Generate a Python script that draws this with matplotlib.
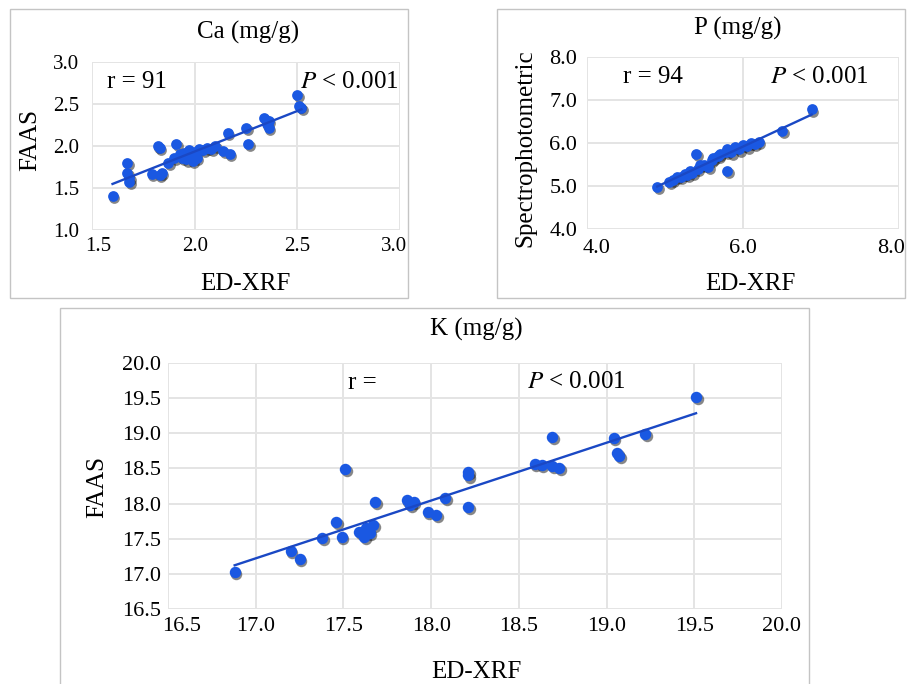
import matplotlib
matplotlib.use("Agg")
import matplotlib.pyplot as plt
import matplotlib.transforms as mtransforms
from matplotlib.patches import Rectangle
import numpy as np

# --- data ---
ca_x = [1.60, 1.67, 1.67, 1.68, 1.68, 1.79, 1.82, 1.83, 1.83, 1.84, 1.87, 1.90, 1.91,
        1.93, 1.94, 1.95, 1.96, 1.97, 1.98, 1.99, 2.00, 2.01, 2.02, 2.04, 2.06, 2.08,
        2.10, 2.14, 2.16, 2.17, 2.25, 2.26, 2.34, 2.35, 2.36, 2.36, 2.50, 2.51, 2.52]
ca_y = [1.40, 1.80, 1.68, 1.62, 1.57, 1.67, 2.00, 1.98, 1.66, 1.68, 1.80, 1.86, 2.02,
        1.90, 1.86, 1.92, 1.84, 1.95, 1.88, 1.82, 1.93, 1.86, 1.96, 1.95, 1.98, 1.97,
        2.00, 1.94, 2.15, 1.91, 2.21, 2.02, 2.33, 2.26, 2.30, 2.22, 2.61, 2.48, 2.45]

p_x = [4.90, 5.05, 5.10, 5.15, 5.20, 5.25, 5.28, 5.32, 5.35, 5.40, 5.42, 5.45, 5.50,
       5.55, 5.60, 5.62, 5.68, 5.70, 5.80, 5.78, 5.80, 5.85, 5.90, 5.95, 6.00, 6.05,
       6.10, 6.15, 6.20, 6.50, 6.88]
p_y = [4.97, 5.10, 5.15, 5.20, 5.22, 5.28, 5.25, 5.35, 5.30, 5.75, 5.40, 5.50, 5.48,
       5.45, 5.60, 5.65, 5.70, 5.75, 5.35, 5.80, 5.85, 5.78, 5.90, 5.85, 5.95, 5.92,
       6.00, 5.98, 6.02, 6.28, 6.78]

k_x = [16.88, 17.20, 17.25, 17.38, 17.46, 17.49, 17.51, 17.59, 17.62, 17.63, 17.65,
       17.67, 17.68, 17.86, 17.88, 17.90, 17.98, 18.03, 18.08, 18.21, 18.21, 18.21,
       18.59, 18.63, 18.69, 18.69, 18.73, 19.04, 19.06, 19.07, 19.22, 19.51]
k_y = [17.03, 17.33, 17.21, 17.51, 17.74, 17.52, 18.49, 17.60, 17.53, 17.65, 17.58,
       17.70, 18.02, 18.05, 17.98, 18.02, 17.88, 17.84, 18.08, 18.45, 18.40, 17.95,
       18.57, 18.55, 18.95, 18.54, 18.51, 18.93, 18.72, 18.68, 18.99, 19.52]

ca_ticks = [1.0, 1.5, 2.0, 2.5, 3.0]
ca_xticks = [1.5, 2.0, 2.5, 3.0]
p_yticks = [4.0, 5.0, 6.0, 7.0, 8.0]
p_xticks = [4.0, 6.0, 8.0]
k_ticks = [16.5, 17.0, 17.5, 18.0, 18.5, 19.0, 19.5, 20.0]

plt.rcParams['font.family'] = ['Liberation Serif', 'DejaVu Serif']
plt.rcParams['mathtext.fontset'] = 'stix'

W, H = 907, 684
fig = plt.figure(figsize=(W / 100, H / 100), dpi=100)

BLUE = '#1a58e2'
LINE = '#1a48c4'
GRID = '#e4e4e4'


def box(l, t, r, b):
    return [l / W, 1 - b / H, (r - l) / W, (b - t) / H]


def ftext(x, y, s, **kw):
    fig.text(x / W, 1 - y / H, s, **kw)


def nudge(label, dx):
    # shift a tick label sideways by dx pixels
    label.set_transform(label.get_transform() +
                        mtransforms.ScaledTranslation(dx / 100, 0, fig.dpi_scale_trans))


def panel(rect, x, y, xticks, yticks, tick_fs, ms, xpad, ypad):
    ax = fig.add_axes(box(*rect))
    ax.set_xlim(xticks[0], xticks[-1])
    ax.set_ylim(yticks[0], yticks[-1])
    ax.set_xticks(xticks)
    ax.set_yticks(yticks)
    ax.set_xticklabels([f"{v:.1f}" for v in xticks])
    ax.set_yticklabels([f"{v:.1f}" for v in yticks])
    ax.tick_params(length=0, labelsize=tick_fs)
    ax.tick_params(axis='x', pad=xpad)
    ax.tick_params(axis='y', pad=ypad)
    for s in ax.spines.values():
        s.set_visible(False)
    ax.grid(True, color=GRID, lw=1.4)
    ax.set_axisbelow(True)
    # shadow under the markers
    shadow = mtransforms.offset_copy(ax.transData, fig=fig, x=1.2, y=-1.5, units='points')
    ax.scatter(x, y, s=ms, color='#111111', alpha=0.5, transform=shadow,
               zorder=2, linewidths=0, clip_on=False)
    ax.scatter(x, y, s=ms, color=BLUE, zorder=3, linewidths=0, clip_on=False)
    k, c = np.polyfit(x, y, 1)
    xs = np.array([min(x), max(x)])
    ax.plot(xs, k * xs + c, color=LINE, lw=1.7, zorder=4)
    return ax


# frames around each panel
for l, t, r, b in [(10, 9, 408, 298), (497, 9, 905, 298), (60, 308, 809, 700)]:
    fig.patches.append(Rectangle((l / W, 1 - b / H), (r - l) / W, (b - t) / H,
                                 transform=fig.transFigure, fill=False,
                                 edgecolor='#c4c4c4', lw=1.0))

# Ca
ax1 = panel((92, 62, 400, 230), ca_x, ca_y, ca_xticks, ca_ticks, 15, 60, 5, 9)
nudge(ax1.get_xticklabels()[0], 6)
nudge(ax1.get_xticklabels()[-1], -6)
ftext(248, 32, 'Ca (mg/g)', fontsize=18, ha='center', va='center')
ftext(245, 284, 'ED-XRF', fontsize=18, ha='center', va='center')
ftext(30, 140, 'FAAS', fontsize=18, ha='center', va='center', rotation=90)
ftext(107, 82, 'r = 91', fontsize=18, ha='left', va='center')
ftext(399, 82, r'$P$ < 0.001', fontsize=18, ha='right', va='center')

# P
ax2 = panel((587, 57, 899, 229), p_x, p_y, p_xticks, p_yticks, 16, 60, 7, 7)
nudge(ax2.get_xticklabels()[0], 10)
nudge(ax2.get_xticklabels()[-1], -8)
ftext(738, 28, 'P (mg/g)', fontsize=18, ha='center', va='center')
ftext(750, 284, 'ED-XRF', fontsize=18, ha='center', va='center')
ftext(525, 148, 'Spectrophotometric', fontsize=18, ha='center', va='center', rotation=90)
ftext(623, 77, 'r = 94', fontsize=18, ha='left', va='center')
ftext(770, 77, r'$P$ < 0.001', fontsize=18, ha='left', va='center')

# K
ax3 = panel((168, 363, 782, 609), k_x, k_y, k_ticks, k_ticks, 16, 68, 6, 5)
nudge(ax3.get_xticklabels()[0], 14)
ftext(476, 329, 'K (mg/g)', fontsize=18, ha='center', va='center')
ftext(476, 672, 'ED-XRF', fontsize=18, ha='center', va='center')
ftext(97, 487, 'FAAS', fontsize=18, ha='center', va='center', rotation=90)
ftext(348, 383, 'r =', fontsize=18, ha='left', va='center')
ftext(527, 382, r'$P$ < 0.001', fontsize=18, ha='left', va='center')

fig.savefig('out.png', dpi=100)
